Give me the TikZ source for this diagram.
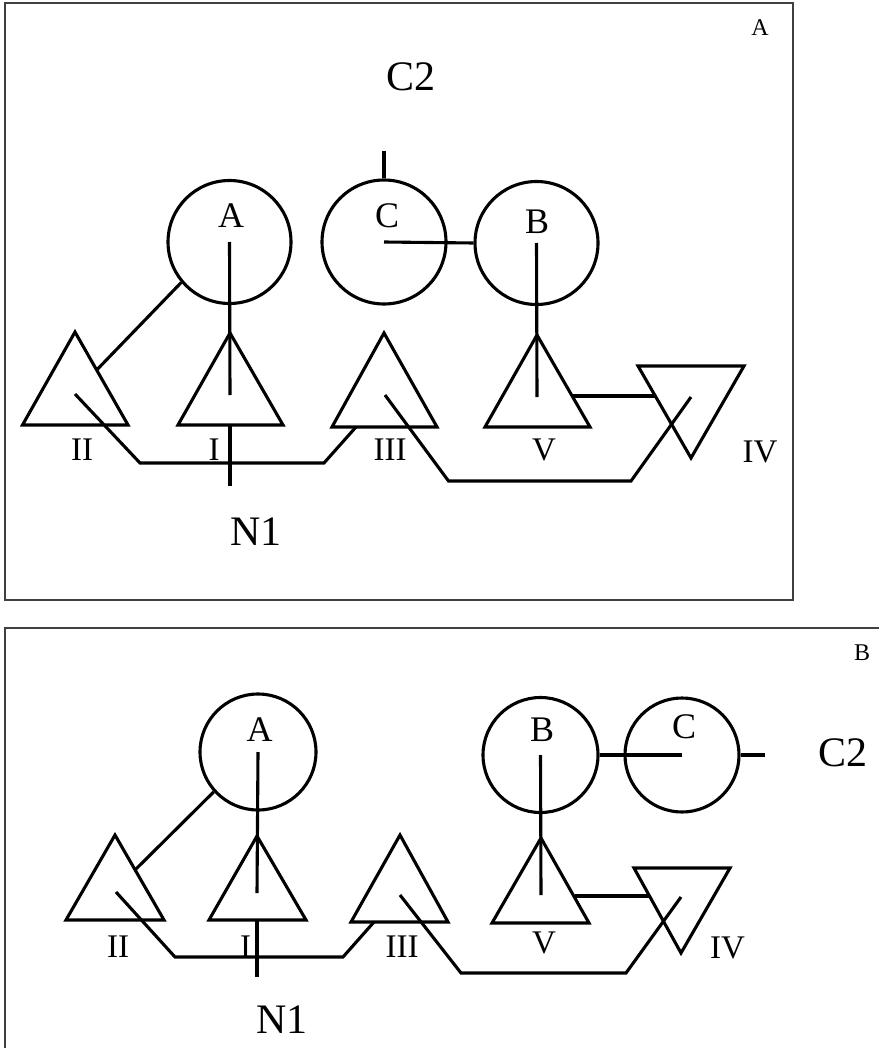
\documentclass[tikz,border=0pt]{standalone}
\usepackage{fontspec}
\setmainfont{Liberation Serif}
\begin{document}
\begin{tikzpicture}[x=1pt,y=-1pt,
  wire/.style={line width=3.1pt, line join=miter, line cap=butt},
  frame/.style={line width=1.4pt, draw=black!75},
  circ/.style={circle, draw, line width=3.1pt, inner sep=0pt, minimum size=#1},
  lbl/.style={inner sep=0pt, font=\fontsize{36}{38}\selectfont},
  num/.style={inner sep=0pt, font=\fontsize{33}{34}\selectfont},
  big/.style={inner sep=0pt, font=\fontsize{42}{44}\selectfont},
  corner/.style={inner sep=0pt, font=\fontsize{24}{25}\selectfont}]
\useasboundingbox (0,0) rectangle (878,1048);
\fill[white] (0,0) rectangle (878,1048);

% ================= Panel A =================
\draw[frame] (5,3) rectangle (793,600);
\node[corner] (pA) at (760,28) {A};
\node[big] (c2a) at (411,77) {C2};

\node[circ=123pt] (cA) at (229.5,242) {};
\node[circ=124pt] (cC) at (384,242) {};
\node[circ=123pt] (cB) at (536.5,243) {};
\node[lbl] (tA) at (231,216) {A};
\node[lbl] (tC) at (387,216) {C};
\node[lbl] (tB) at (537,222) {B};

% triangles
\draw[wire] (75,332) -- (22.5,425) -- (128,425) -- cycle;
\draw[wire] (230,333) -- (178,425) -- (283,425) -- cycle;
\draw[wire] (384,333) -- (332,427) -- (437,427) -- cycle;
\draw[wire] (537,335) -- (485,427) -- (590,427) -- cycle;
\draw[wire] (638,366) -- (744,366) -- (691,458) -- cycle;

\node[num] (nII) at (82,450) {II};
\node[num] (nI) at (214,450) {I};
\node[num] (nIII) at (390,450) {III};
\node[num] (nV) at (544,450) {V};
\node[num] (nIV) at (760,452) {IV};
\node[big] (n1a) at (256,532) {N1};

\coordinate (cCtop) at (384,151);
\coordinate (aII) at (96.7,370);
\coordinate (aIin) at (230,395);
\coordinate (aBin) at (537,397);
\coordinate (aIIin) at (75,394);
\coordinate (aIIIbase) at (356,427);
\coordinate (aIbase) at (230,425);
\coordinate (aN1) at (230,486);
\coordinate (aIIIin) at (385,395);
\coordinate (aIVin) at (691,397);
\coordinate (aVr) at (572.5,396);
\coordinate (aIVl) at (655,396);

\draw[wire] (cC.north) -- (cCtop);
\draw[wire] (cC.center) -- (cB.west);
\draw[wire] (cA.220) -- (aII);
\draw[wire] (cA.center) -- (aIin);
\draw[wire] (cB.center) -- (aBin);
\draw[wire] (aIIin) -- (140,463) -- (324,463) -- (aIIIbase);
\draw[wire] (aIbase) -- (aN1);
\draw[wire] (aIIIin) -- (448.5,481) -- (631,481) -- (aIVin);
\draw[wire] (aVr) -- (aIVl);

% ================= Panel B =================
\draw[frame] (5,1050) -- (5,628) -- (880,628);
\node[corner] (pB) at (862,653) {B};
\node[big] (c2b) at (843,753) {C2};

\node[circ=116pt] (cA2) at (258,752) {};
\node[circ=115pt] (cB2) at (540.5,755) {};
\node[circ=114pt] (cC2) at (682,755) {};
\node[lbl] (tA2) at (259.5,730) {A};
\node[lbl] (tB2) at (542,730) {B};
\node[lbl] (tC2) at (684,727) {C};

\draw[wire] (115,835) -- (66,920) -- (164,920) -- cycle;
\draw[wire] (257,836) -- (209,920) -- (306,920) -- cycle;
\draw[wire] (400,835) -- (351,922) -- (448,922) -- cycle;
\draw[wire] (541,838) -- (492,923) -- (589,923) -- cycle;
\draw[wire] (634,868) -- (730,868) -- (681,953) -- cycle;

\node[num] (mII) at (118,947) {II};
\node[num] (mI) at (245.5,947) {I};
\node[num] (mIII) at (402,947) {III};
\node[num] (mV) at (544,943) {V};
\node[num] (mIV) at (727.5,948) {IV};
\node[big] (n1b) at (282,1020) {N1};

\coordinate (bII) at (135,870);
\coordinate (bIin) at (257,893);
\coordinate (bBin) at (541,895);
\coordinate (bCstub) at (765,755);
\coordinate (bIIin) at (116,892);
\coordinate (bIIIbase) at (374,922);
\coordinate (bIbase) at (257,920);
\coordinate (bN1) at (257,977);
\coordinate (bIIIin) at (400,895);
\coordinate (bIVin) at (681,897);
\coordinate (bVr) at (575,896);
\coordinate (bIVl) at (650,896);

\draw[wire] (cA2.222) -- (bII);
\draw[wire] (cA2.center) -- (bIin);
\draw[wire] (cB2.center) -- (bBin);
\draw[wire] (cB2.east) -- (cC2.center);
\draw[wire] (cC2.east) -- (bCstub);
\draw[wire] (bIIin) -- (175,957) -- (343,957) -- (bIIIbase);
\draw[wire] (bIbase) -- (bN1);
\draw[wire] (bIIIin) -- (461,973) -- (626,973) -- (bIVin);
\draw[wire] (bVr) -- (bIVl);
\end{tikzpicture}
\end{document}
